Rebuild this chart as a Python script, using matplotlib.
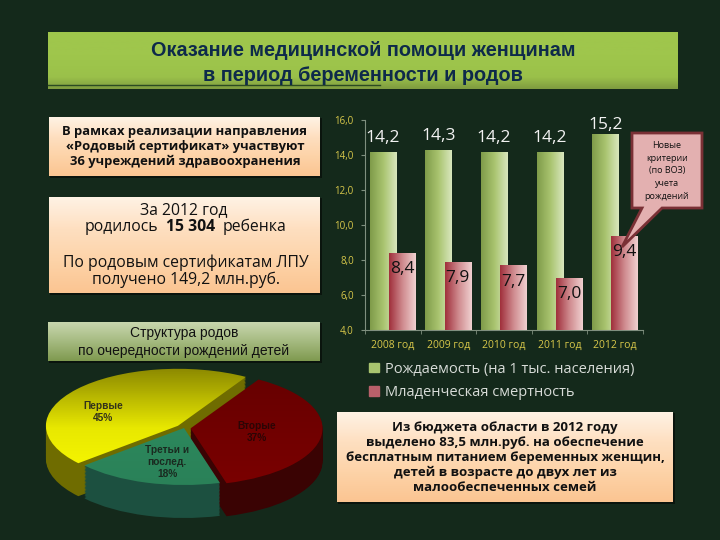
import matplotlib
matplotlib.use('Agg')
import matplotlib.pyplot as plt
from matplotlib.colors import LinearSegmentedColormap
from matplotlib.patches import Patch, Polygon, Rectangle
import numpy as np

plt.rcParams['font.family'] = ['Open Sans', 'DejaVu Sans']

years = ['2008 год', '2009 год', '2010 год', '2011 год', '2012 год']
birth_rate = [14.2, 14.3, 14.2, 14.2, 15.2]
infant_mortality = [8.4, 7.9, 7.7, 7.0, 9.4]
birth_labels = ['14,2', '14,3', '14,2', '14,2', '15,2']
mortality_labels = ['8,4', '7,9', '7,7', '7,0', '9,4']
y_ticks = [4, 6, 8, 10, 12, 14, 16]
y_tick_labels = ['4,0', '6,0', '8,0', '10,0', '12,0', '14,0', '16,0']
series_names = ['Рождаемость (на 1 тыс. населения)', 'Младенческая смертность']

pie_values = [45, 18, 37]
pie_labels = ['Первые\n45%', 'Третьи и\nпослед.\n18%', 'Вторые\n37%']

BG = '#14291b'
W, H = 720, 540


def cmap(*colors):
    return LinearSegmentedColormap.from_list('c', colors)


def fill_gradient(ax, patch, colors, extent, vertical=False):
    # gradient image clipped to the shape of the patch
    grad = np.linspace(0, 1, 64)
    grad = grad.reshape(-1, 1) if vertical else grad.reshape(1, -1)
    im = ax.imshow(grad, cmap=cmap(*colors), extent=extent, aspect='auto',
                   origin='lower', zorder=patch.get_zorder())
    im.set_clip_path(patch)


def box(ax, x0, y0, x1, y1, colors, shadow=True):
    if shadow:
        ax.add_patch(Rectangle((x0 + 1, y0 + 1), x1 - x0 + 1, y1 - y0 + 1,
                               fc='#0a140d', ec='none', zorder=1))
    rect = Rectangle((x0, y0), x1 - x0, y1 - y0, fc='none', ec='none', zorder=2)
    ax.add_patch(rect)
    fill_gradient(ax, rect, colors, (x0, x1, y0, y1), vertical=True)


fig = plt.figure(figsize=(7.2, 5.4), dpi=100, facecolor=BG)

# page layer in pixel coordinates
page = fig.add_axes([0, 0, 1, 1])
page.set_xlim(0, W)
page.set_ylim(H, 0)
page.axis('off')

peach = ['#fff2e4', '#fedfc0', '#fdd3a8', '#fbc592']
box(page, 48, 32, 678, 89, ['#9fc64c', '#9fc64c', '#9fc64c', '#9dc44b', '#9ac04a', '#7f9c40'], shadow=False)
page.plot([48, 380], [85, 85], color='#2c4a22', lw=1, zorder=3)
page.text(363, 63, 'Оказание медицинской помощи женщинам\nв период беременности и родов',
          ha='center', va='center', fontsize=14.3, fontweight='bold', color='#0e2a4a',
          family=['Liberation Sans'], linespacing=1.4, zorder=4)

box(page, 49, 117, 320, 176, peach)
page.text(185, 146.5, 'В рамках реализации направления\n«Родовый сертификат» участвуют\n36 учреждений здравоохранения',
          ha='center', va='center', fontsize=9.4, fontweight='bold', color='#111111',
          linespacing=1.2, zorder=4)

box(page, 49, 197, 320, 293, peach)
page.text(184, 210, 'За 2012 год', ha='center', va='center', fontsize=11.3, color='#111111', zorder=4)
page.text(158, 227, 'родилось', ha='right', va='center', fontsize=11.3, color='#111111', zorder=4)
page.text(191, 227, '15 304', ha='center', va='center', fontsize=11.3, fontweight='bold', color='#111111', zorder=4)
page.text(223, 227, 'ребенка', ha='left', va='center', fontsize=11.3, color='#111111', zorder=4)
page.text(186, 271.5, 'По родовым сертификатам ЛПУ\nполучено 149,2 млн.руб.', ha='center', va='center',
          fontsize=11.3, color='#111111', linespacing=1.05, zorder=4)

box(page, 48, 322, 320, 361, ['#c8d6ae', '#a5ba80', '#7f9a50'])
page.text(184, 342, 'Структура родов\nпо очередности рождений детей', ha='center', va='center',
          fontsize=10, color='#111111', family=['Liberation Sans'], linespacing=1.3, zorder=4)

box(page, 337, 412, 673, 502, peach)
page.text(505, 457.5, 'Из бюджета области в 2012 году\nвыделено 83,5 млн.руб. на обеспечение\nбесплатным питанием беременных женщин,\nдетей в возрасте до двух лет из\nмалообеспеченных семей',
          ha='center', va='center', fontsize=9.5, fontweight='bold', color='#111111',
          linespacing=1.2, zorder=4)

# bar chart
ax = fig.add_axes([365 / W, 1 - 330 / H, 278 / W, 210 / H])
ax.patch.set_alpha(0)
ax.set_xlim(-0.5, 4.5)
ax.set_ylim(4, 16)
x = np.arange(len(years))
green_bars = ax.bar(x - 0.18, birth_rate, 0.47, color='none', zorder=2)
red_bars = ax.bar(x + 0.17, infant_mortality, 0.48, color='none', zorder=3)
for bar in green_bars:
    fill_gradient(ax, bar, ['#7f9c4a', '#a9c46f', '#d8e6bd'],
                  (bar.get_x(), bar.get_x() + bar.get_width(), 4, bar.get_height()))
for bar in red_bars:
    fill_gradient(ax, bar, ['#a0303c', '#cf8a8e', '#f0d0d0'],
                  (bar.get_x(), bar.get_x() + bar.get_width(), 4, bar.get_height()))
ax.set_xlim(-0.5, 4.5)
ax.set_ylim(4, 16)
for xi, v, lab in zip(x, birth_rate, birth_labels):
    ax.text(xi - 0.18, min(v + 0.78, 15.7), lab, ha='center', va='center', fontsize=12.5,
            color='#f2f2f2', zorder=5)
for xi, v, lab in zip(x, infant_mortality, mortality_labels):
    ax.text(xi + 0.17, v - 0.94, lab, ha='center', va='center', fontsize=12.5, color='#111111', zorder=5)
ax.set_xticks(x, years)
ax.set_xticks(np.arange(-0.5, 5), minor=True)
ax.set_yticks(y_ticks, y_tick_labels)
ax.tick_params(axis='x', which='major', length=0, pad=7, labelsize=7.5, labelcolor='#d8c84a')
ax.tick_params(axis='x', which='minor', length=3, color='#7f8f7f')
ax.tick_params(axis='y', length=3, color='#7f8f7f', labelsize=7, labelcolor='#d8c84a', pad=5)
for s in ['top', 'right']:
    ax.spines[s].set_visible(False)
for s in ['left', 'bottom']:
    ax.spines[s].set_color('#7f8f7f')

fig.legend(handles=[Patch(color='#a9c46f'), Patch(color='#b9606a')], labels=series_names,
           loc='upper left', bbox_to_anchor=(369 / W, 1 - 362 / H), frameon=False,
           fontsize=10.5, labelcolor='#d8dcd8', handlelength=0.68, handleheight=0.6,
           handletextpad=0.45, labelspacing=0.55, borderpad=0, borderaxespad=0)

# callout
callout = Polygon([(632, 133), (702, 133), (702, 208), (662, 208), (622, 247), (642, 208), (632, 208)],
                  fc='#e3b0b0', ec='#7a3035', lw=2, zorder=6)
top = fig.add_axes([0, 0, 1, 1], zorder=5)
top.set_xlim(0, W)
top.set_ylim(H, 0)
top.axis('off')
top.add_patch(callout)
top.text(667, 171, 'Новые\nкритерии\n(по ВОЗ)\nучета\nрождений', ha='center', va='center',
         fontsize=6.5, color='#111111', linespacing=1.55, zorder=7)

# pie: circle squeezed to an ellipse, depth made from stacked copies
cx, cy, rx, ry, depth = 184, 428, 132, 57, 33
pie_ax = fig.add_axes([0, 0, 1, 1], zorder=3)
pie_ax.axis('off')
explode = [0.06, 0, 0.05]
side_colors = ['#6f6c00', '#1c5040', '#3a0303']
for off in np.linspace(depth / ry, 0.02, 24):
    pie_ax.pie(pie_values, startangle=59, counterclock=True, explode=explode,
               colors=side_colors, center=(0, -off), radius=1, frame=False)
wedges, _ = pie_ax.pie(pie_values, startangle=59, counterclock=True, explode=explode,
                       colors=['none'] * 3, center=(0, 0), radius=1, frame=False)
top_colors = [['#ffff00', '#e8e800', '#7f7c00'], ['#2a8058', '#2f9060'], ['#7c0000', '#640000']]
for w, cols in zip(wedges, top_colors):
    w.set_zorder(3)
    fill_gradient(pie_ax, w, cols, (-1.2, 1.2, -1.2, 1.2), vertical=True)
pie_ax.set_aspect('auto')
pie_ax.set_xlim(-cx / rx, (W - cx) / rx)
pie_ax.set_ylim(-(H - cy) / ry, cy / ry)
label_pos = [(103, 412), (167, 462), (257, 432)]
label_colors = ['#33331a', '#1a2a20', '#2a0505']
for (px, py), lab, col in zip(label_pos, pie_labels, label_colors):
    pie_ax.text((px - cx) / rx, (cy - py) / ry, lab, ha='center', va='center', fontsize=7.3,
                fontweight='bold', color=col, family=['Liberation Sans'], linespacing=1.25, zorder=8)

fig.savefig('out.png', dpi=100, facecolor=BG)
